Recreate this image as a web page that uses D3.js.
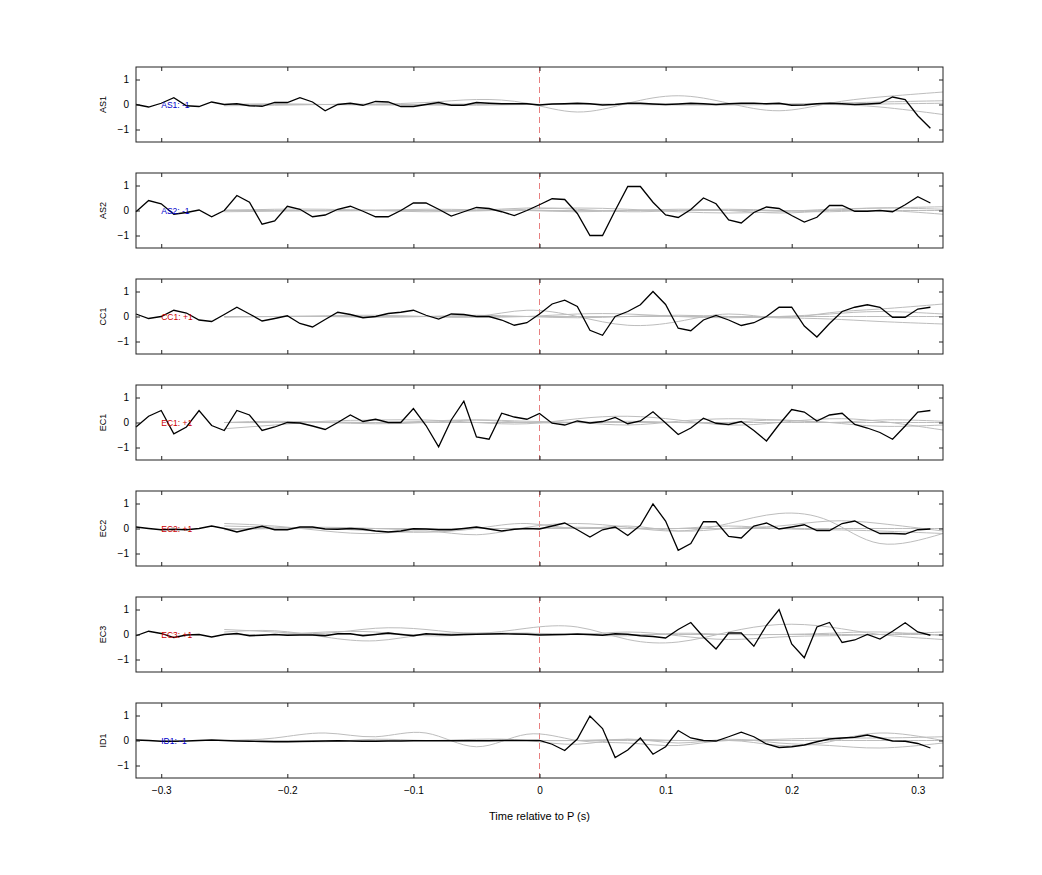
<!DOCTYPE html>
<html><head><meta charset="utf-8">
<script src="https://cdn.jsdelivr.net/npm/d3@7"></script>
<style>body{margin:0;background:#fff}svg{font-family:"Liberation Sans",Arial,sans-serif}</style>
</head><body><svg id="c" width="1042" height="875"></svg>
<script>
const stations=["AS1","AS2","CC1","EC1","EC2","EC3","ID1"];
const labels=["AS1: -1","AS2: -1","CC1: +1","EC1: +1","EC2: +1","EC3: +1","ID1: -1"];
const labelColors=["#0000cc","#0000cc","#cc0000","#cc0000","#cc0000","#cc0000","#0000cc"];
const xTicks=[-0.3,-0.2,-0.1,0,0.1,0.2,0.3];
const yTicks=[-1,0,1];
const tStart=-0.32, tStep=0.01;
const black=[
[0,-0.1,0.05,0.27,-0.05,-0.08,0.1,0,0.03,-0.05,-0.07,0.08,0.08,0.27,0.1,-0.25,0,0.05,-0.03,0.12,0.1,-0.08,-0.08,0,0.08,-0.03,-0.03,0.08,0.05,0.03,0.03,0.03,-0.02,0.02,0.03,0.05,0.03,-0.02,0,0.05,0.05,0.02,0,0.02,0.05,0.03,0,0.03,0.05,0.05,0.03,0.05,-0.03,-0.02,0.03,0.05,0.03,0,0.02,0.05,0.3,0.2,-0.45,-0.95],
[-0.05,0.4,0.27,-0.15,-0.08,0.02,-0.25,0,0.6,0.33,-0.55,-0.42,0.17,0.05,-0.25,-0.18,0.05,0.17,-0.03,-0.25,-0.25,0,0.3,0.3,0.05,-0.22,-0.05,0.12,0.08,-0.05,-0.2,0,0.23,0.47,0.44,-0.12,-1,-1,0,0.96,0.96,0.33,-0.18,-0.28,0.04,0.5,0.27,-0.38,-0.5,-0.08,0.14,0.08,-0.2,-0.46,-0.27,0.2,0.2,-0.03,-0.03,0,-0.05,0.23,0.55,0.3],
[0.1,-0.08,0,0.25,0.14,-0.14,-0.2,0.08,0.37,0.1,-0.18,-0.08,0.03,-0.28,-0.42,-0.12,0.17,0.08,-0.05,0,0.12,0.17,0.25,0.05,-0.1,0.1,0.08,0,0,-0.14,-0.35,-0.25,0.1,0.5,0.65,0.4,-0.55,-0.75,0,0.2,0.47,1,0.48,-0.47,-0.57,-0.14,0.04,-0.14,-0.36,-0.25,0,0.37,0.37,-0.38,-0.82,-0.28,0.2,0.37,0.47,0.37,-0.03,-0.03,0.3,0.37],
[-0.18,0.25,0.48,-0.45,-0.18,0.48,-0.12,-0.32,0.48,0.3,-0.32,-0.18,0,-0.02,-0.14,-0.28,0,0.3,0.04,0.13,0,0,0.56,-0.12,-0.97,0.1,0.85,-0.58,-0.67,0.37,0.22,0.13,0.36,-0.03,-0.1,0.06,-0.02,0.04,0.2,-0.05,0.06,0.43,-0.02,-0.48,-0.22,0.17,-0.03,-0.08,0.04,-0.32,-0.74,-0.08,0.52,0.42,0.06,0.3,0.37,-0.08,-0.22,-0.4,-0.67,-0.14,0.42,0.48],
[0.06,0,-0.05,-0.03,-0.05,0,0.1,0,-0.14,-0.02,0.09,-0.05,-0.05,0.06,0.06,-0.02,-0.03,0,-0.03,-0.1,-0.14,-0.1,-0.01,-0.02,-0.05,-0.05,0,0.06,-0.02,-0.1,-0.03,0,-0.02,0.1,0.22,-0.05,-0.34,-0.05,0.06,-0.28,0.13,0.98,0.3,-0.87,-0.6,0.27,0.27,-0.32,-0.38,0.1,0.22,-0.02,0.06,0.15,-0.08,-0.08,0.2,0.3,0.03,-0.2,-0.2,-0.22,-0.05,-0.02],
[-0.05,0.13,0.04,-0.12,-0.02,0,-0.1,0,0.04,-0.05,-0.03,0,-0.03,-0.02,-0.02,-0.05,0.03,0.03,-0.05,0,0.06,0,-0.05,0.03,0,-0.02,0,0.01,0.02,0.03,0.02,0.01,-0.02,-0.01,0,0.02,0,-0.03,0.03,0.01,-0.05,-0.08,-0.14,0.2,0.48,-0.1,-0.58,0.06,0.06,-0.47,0.37,1,-0.38,-0.93,0.3,0.48,-0.32,-0.22,0,-0.18,0.13,0.47,0.1,-0.03],
[0.02,0,-0.03,-0.03,-0.02,0,0.02,0,-0.02,-0.03,-0.04,-0.05,-0.05,-0.04,-0.03,-0.02,-0.01,-0.02,-0.03,-0.03,-0.02,-0.02,-0.01,-0.01,-0.01,-0.01,-0.01,-0.01,-0.01,0,0,0,0,-0.15,-0.4,0.06,0.98,0.48,-0.68,-0.38,0.1,-0.55,-0.25,0.4,0.1,0,-0.02,0.15,0.33,0.15,-0.14,-0.28,-0.25,-0.18,-0.05,0.06,0.1,0.13,0.22,0.1,-0.02,-0.03,-0.12,-0.3]
];
const grayX=[-0.25,-0.21,-0.17,-0.13,-0.09,-0.05,-0.01,0.03,0.07,0.11,0.15,0.19,0.23,0.27,0.32];
const gray=[
[[0,0,0,0.02,0.08,0.2,0.05,-0.3,0.05,0.35,0.05,-0.25,0.05,0.3,0.5],[0,0.03,0,-0.02,0,0.02,0,0.02,0,-0.02,0,0.02,0.05,0.1,0.15],[-0.05,-0.03,0,0,-0.02,-0.03,0,0,0.02,0,-0.02,0,0,-0.1,-0.4],[0,0,0,0,0,0,0,0,0,0,0,0,0,0.02,0.05]],
[[-0.05,-0.03,0,0.02,0,-0.02,0.05,0.1,0.05,-0.05,-0.1,-0.05,0.05,0.1,0.15],[0,0.05,0.05,0,-0.05,0,0.1,0.05,-0.05,0,0.05,0,-0.05,0,-0.15],[0.02,0,-0.02,0,0.05,0.03,0,-0.05,0,0.05,0,-0.1,0,0.1,0.05],[0,0,0,0,0,0,0,0,0,0,0,0,0,0,0]],
[[0,0,0,0,0,0,0.25,0,-0.35,-0.2,0.1,-0.05,0.15,0.3,0.5],[0,0,0.03,0.05,0,-0.03,0,0.1,0.1,0,-0.05,0,0.1,0.2,0.1],[-0.03,0,0,-0.03,0,0.05,0,-0.05,0,0.05,0,-0.05,-0.1,-0.2,-0.3],[0,0,0,0,0,0,0,0,0,0,0,0,0,0,0]],
[[-0.25,-0.1,0.05,0.1,0.1,0,-0.05,0.15,0.25,0.1,-0.1,0,0.15,0.05,-0.3],[0,0.05,0,-0.05,0,0.1,0.05,0,-0.1,0.05,0.15,0.1,0,-0.15,-0.1],[0,0,0.02,0,0.05,0.1,0,0,0.05,0,0,0.1,0,0.1,0.05],[0,0,0,0,0,0,0,0,0,0,0,0,0,0,0]],
[[0.2,0.1,-0.1,-0.2,-0.1,-0.25,0.05,0.2,0.05,-0.1,0.2,0.6,0.3,-0.6,-0.2],[0.1,0.05,0,-0.1,-0.15,0,0.2,0,0.1,-0.1,0,0.1,0.3,0.2,-0.1],[-0.05,0,0.05,0,-0.05,0,0,0.05,0,0,0.1,0,-0.05,-0.1,-0.2],[0,0,0,0,0,0,0,0,0,0,0,0,0,0,0]],
[[0.2,0.1,0.05,0.25,0.2,0.05,0.25,0.3,-0.2,-0.3,0.1,0.4,0.3,0,-0.2],[0.1,0.15,-0.1,-0.25,0,0.05,0.05,0,0.1,-0.05,-0.2,-0.1,-0.05,0,0.1],[0,0,0.1,0.1,-0.05,0,0.05,0,-0.05,0.05,0,0,0.05,0.1,-0.05],[0,0,0,0,0,0,0,0,0,0,0,0,0,0,0]],
[[0,0.1,0.3,0.15,0.3,-0.25,0.25,0,-0.1,-0.2,0,-0.2,-0.05,0.3,0],[0,0,-0.05,0.05,0,0.05,0,-0.15,0.05,-0.1,0.05,-0.1,-0.2,-0.3,-0.1],[0,0,0,0,0,0,0,0,0.05,0,0,0.05,0.1,0.1,0.15],[0,0,0,0,0,0,0,0,0,0,0,0,0,0,0]]
];
const svg=d3.select("#c");
const L=136,R=943,H=75,top0=67,gap=106;
const x=d3.scaleLinear().domain([-0.32,0.32]).range([L,R]);
stations.forEach((s,k)=>{
  const t=top0+k*gap;
  const y=d3.scaleLinear().domain([-1.5,1.5]).range([t+H,t]);
  const g=svg.append("g");
  g.append("line").attr("x1",x(0)).attr("x2",x(0)).attr("y1",t).attr("y2",t+H).attr("stroke","#e88080").attr("stroke-width",1).attr("stroke-dasharray","6,4");
  const gl=d3.line().x((d,i)=>x(grayX[i])).y(d=>y(d)).curve(d3.curveNatural);
  gray[k].forEach(a=>g.append("path").attr("d",gl(a)).attr("fill","none").attr("stroke","#bdbdbd").attr("stroke-width",1));
  const bl=d3.line().x((d,i)=>x(tStart+i*tStep)).y(d=>y(d));
  g.append("path").attr("d",bl(black[k])).attr("fill","none").attr("stroke","#000").attr("stroke-width",1.3);
  g.append("text").attr("x",x(-0.3)).attr("y",y(0)+3).attr("font-size",8.5).attr("fill",labelColors[k]).text(labels[k]);
  const ax=(a)=>a.tickSizeInner(-4).tickSizeOuter(0);
  g.append("g").attr("transform",`translate(0,${t+H})`).call(ax(d3.axisBottom(x).tickValues(xTicks).tickFormat(k==6?d3.format(""):""))).call(a=>{a.select(".domain").remove();a.selectAll("text").attr("dy","1.3em").attr("font-size",10);});
  g.append("g").attr("transform",`translate(0,${t})`).call(ax(d3.axisTop(x).tickValues(xTicks).tickFormat(""))).select(".domain").remove();
  g.append("g").attr("transform",`translate(${L},0)`).call(ax(d3.axisLeft(y).tickValues(yTicks).tickFormat(d3.format("")))).call(a=>{a.select(".domain").remove();a.selectAll("text").attr("x",-7).attr("font-size",10);});
  g.append("g").attr("transform",`translate(${R},0)`).call(ax(d3.axisRight(y).tickValues(yTicks).tickFormat(""))).select(".domain").remove();
  g.selectAll(".tick line").attr("stroke","#222");
  g.append("rect").attr("x",L).attr("y",t).attr("width",R-L).attr("height",H).attr("fill","none").attr("stroke","#222").attr("stroke-width",1);
  g.append("text").attr("transform",`translate(106,${t+H/2}) rotate(-90)`).attr("text-anchor","middle").attr("font-size",9).text(s);
});
svg.append("text").attr("x",x(0)).attr("y",820).attr("text-anchor","middle").attr("font-size",11).text("Time relative to P (s)");
</script></body></html>
